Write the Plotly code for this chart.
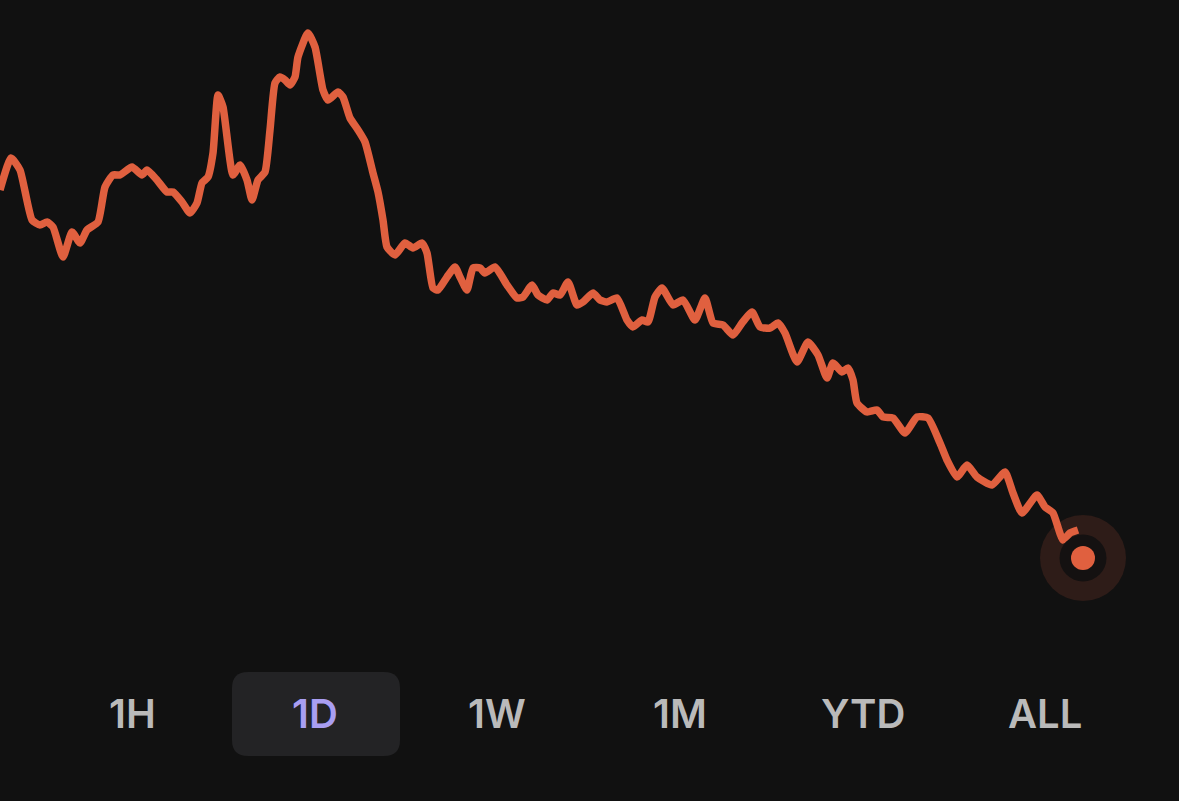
import plotly.graph_objects as go

# ---- data ----
minutes = [0, 11, 20, 32, 40, 47, 53, 63, 72, 80, 87, 98, 105, 113, 120, 132, 142, 147, 157, 167,
           173, 182, 190, 197, 202, 208, 213, 218, 223, 233, 240, 247, 252, 258, 265, 270, 275, 280,
           285, 290, 295, 298, 308, 315, 323, 328, 338, 343, 350, 358, 365, 373, 378, 383, 387, 395,
           405, 413, 422, 427, 433, 438, 447, 455, 460, 467, 473, 480, 485, 495, 507, 517, 523, 532,
           538, 547, 553, 560, 568, 577, 583, 593, 600, 607, 617, 627, 633, 642, 648, 655, 662, 673,
           683, 695, 705, 713, 723, 733, 742, 752, 760, 770, 778, 785, 797, 808, 818, 827, 833, 842,
           848, 853, 857, 867, 877, 883, 893, 905, 917, 928, 940, 947, 957, 967, 977, 992, 1005, 1013,
           1022, 1037, 1045, 1053, 1063, 1070, 1078]
prices = [61.0, 64.2, 63.0, 58.0, 57.5, 57.8, 57.3, 54.3, 56.8, 55.7, 57.0, 57.8, 61.3, 62.5, 62.5,
          63.3, 62.5, 63.0, 62.0, 60.8, 60.8, 59.8, 58.7, 59.7, 61.7, 62.3, 64.7, 70.5, 69.3, 62.5,
          63.5, 62.0, 60.0, 62.0, 62.8, 67.0, 71.7, 72.3, 72.0, 71.5, 72.3, 74.3, 76.7, 75.3, 71.0,
          70.0, 70.8, 70.3, 68.2, 67.0, 65.8, 62.7, 60.8, 58.0, 55.3, 54.5, 55.7, 55.2, 55.7, 54.7,
          51.2, 51.0, 52.3, 53.3, 52.3, 51.0, 53.2, 53.2, 52.7, 53.3, 51.5, 50.2, 50.3, 51.5, 50.5,
          50.0, 50.7, 50.5, 51.8, 49.5, 49.8, 50.7, 50.0, 49.8, 50.2, 48.0, 47.3, 48.0, 47.8, 50.3,
          51.2, 49.5, 50.0, 48.0, 50.2, 47.7, 47.5, 46.5, 47.7, 48.8, 47.3, 47.2, 47.7, 46.7, 43.8,
          45.8, 44.5, 42.2, 43.7, 42.8, 43.2, 42.0, 39.7, 38.8, 39.0, 38.3, 38.2, 36.7, 38.3, 38.2,
          35.7, 34.0, 32.3, 33.5, 32.3, 31.5, 32.8, 30.7, 28.7, 30.5, 29.3, 28.7, 26.0, 26.7, 27.0]
current_minute = 1083
current_price = 24.2

ranges = ["1H", "1D", "1W", "1M", "YTD", "ALL"]
selected = "1D"

# ---- style ----
W, H = 1179, 801
BG = "#111111"
LINE = "#e0603f"

fig = go.Figure()

# halo
fig.add_trace(go.Scatter(x=[current_minute], y=[current_price], mode="markers",
                         marker=dict(size=86, color="#2e1c18", line=dict(width=0)),
                         hoverinfo="skip", showlegend=False))
# price line
fig.add_trace(go.Scatter(x=minutes, y=prices, mode="lines",
                         line=dict(color=LINE, width=7.5, shape="spline", smoothing=0.5),
                         hoverinfo="skip", showlegend=False))
# dark ring
fig.add_trace(go.Scatter(x=[current_minute], y=[current_price], mode="markers",
                         marker=dict(size=47, color="#141111", line=dict(width=0)),
                         hoverinfo="skip", showlegend=False))
# dot
fig.add_trace(go.Scatter(x=[current_minute], y=[current_price], mode="markers",
                         marker=dict(size=24, color=LINE, line=dict(width=0)),
                         hoverinfo="skip", showlegend=False))

# range selector buttons
btn_centers = [132, 315, 497, 680, 863, 1045]
btn_y = 713
for lbl, cx in zip(ranges, btn_centers):
    fig.add_annotation(x=cx / W, y=1 - btn_y / H, xref="paper", yref="paper",
                       text=lbl, showarrow=False, xanchor="center", yanchor="middle",
                       font=dict(family="Inter, Roboto, sans-serif", size=40, weight=600,
                                 color="#a99ef2" if lbl == selected else "#bababa"))

# rounded highlight for the selected button
x0, x1, y0, y1, r = 232, 400, 672, 756, 16
def px(x): return x / W
def py(y): return 1 - y / H
path = (f"M {px(x0 + r)} {py(y0)} L {px(x1 - r)} {py(y0)} Q {px(x1)} {py(y0)} {px(x1)} {py(y0 + r)} "
        f"L {px(x1)} {py(y1 - r)} Q {px(x1)} {py(y1)} {px(x1 - r)} {py(y1)} "
        f"L {px(x0 + r)} {py(y1)} Q {px(x0)} {py(y1)} {px(x0)} {py(y1 - r)} "
        f"L {px(x0)} {py(y0 + r)} Q {px(x0)} {py(y0)} {px(x0 + r)} {py(y0)} Z")
fig.add_shape(type="path", path=path, xref="paper", yref="paper",
              fillcolor="#232325", line=dict(width=0), layer="below")

fig.update_layout(
    width=W, height=H,
    margin=dict(l=0, r=0, t=0, b=0),
    paper_bgcolor=BG, plot_bgcolor=BG,
    xaxis=dict(range=[0, 1179], visible=False, fixedrange=True),
    yaxis=dict(range=[-0.1, 80], visible=False, fixedrange=True),
    showlegend=False,
)

fig.write_html("out.html", config={"displayModeBar": False},
               post_script="document.body.style.margin='0';document.body.style.background='#111111';")
